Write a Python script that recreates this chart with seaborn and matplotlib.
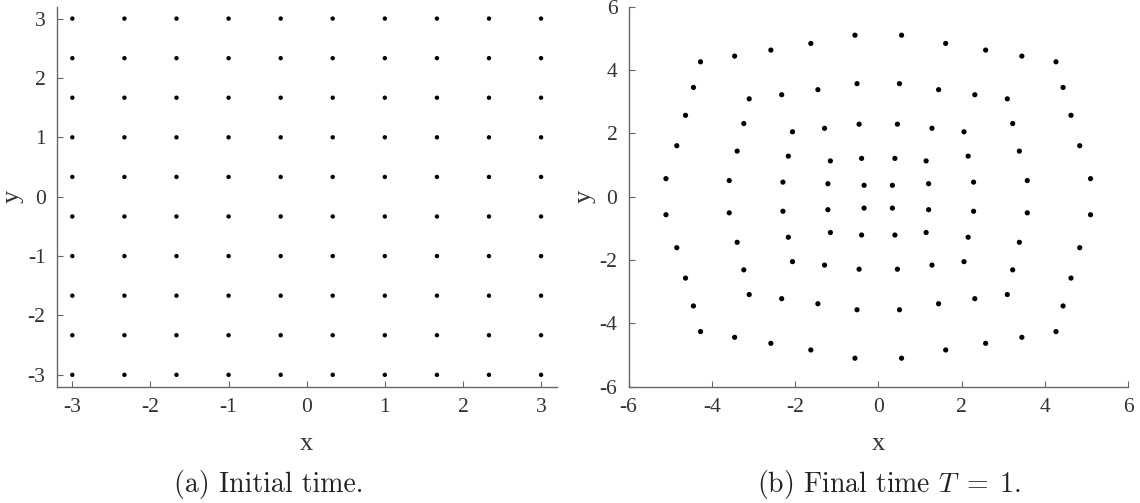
import itertools
import numpy as np
import pandas as pd
import seaborn as sns
import matplotlib.pyplot as plt

# initial grid (10 x 10)
grid_vals = [-3.0, -2.333, -1.667, -1.0, -0.333, 0.333, 1.0, 1.667, 2.333, 3.0]

# final positions at T = 1
final_x = [
    # outer ring
    -0.56, -1.62, -2.58, -3.45, -4.27, -4.44, -4.63, -4.84, -5.10,
    -5.10, -4.84, -4.63, -4.44, -4.27, -3.45, -2.58, -1.62, -0.56,
    0.56, 1.62, 2.58, 3.45, 4.27, 4.44, 4.63, 4.84, 5.10,
    5.10, 4.84, 4.63, 4.44, 4.27, 3.45, 2.58, 1.62, 0.56,
    # second ring
    -0.51, -1.45, -2.32, -3.10, -3.23, -3.39, -3.58,
    -3.58, -3.39, -3.23, -3.10, -2.32, -1.45, -0.51,
    0.51, 1.45, 2.32, 3.10, 3.23, 3.39, 3.58,
    3.58, 3.39, 3.23, 3.10, 2.32, 1.45, 0.51,
    # third ring
    -0.46, -1.29, -2.06, -2.16, -2.29,
    -2.29, -2.16, -2.06, -1.29, -0.46,
    0.46, 1.29, 2.06, 2.16, 2.29,
    2.29, 2.16, 2.06, 1.29, 0.46,
    # fourth ring
    -0.40, -1.15, -1.21,
    -1.21, -1.15, -0.40,
    0.40, 1.15, 1.21,
    1.21, 1.15, 0.40,
    # centre
    -0.34, -0.34, 0.34, 0.34,
]
final_y = [
    5.10, 4.84, 4.63, 4.44, 4.26, 3.45, 2.57, 1.61, 0.57,
    -0.57, -1.61, -2.57, -3.45, -4.26, -4.44, -4.63, -4.84, -5.10,
    -5.10, -4.84, -4.63, -4.44, -4.26, -3.45, -2.57, -1.61, -0.57,
    0.57, 1.61, 2.57, 3.45, 4.26, 4.44, 4.63, 4.84, 5.10,
    3.57, 3.38, 3.22, 3.09, 2.31, 1.44, 0.51,
    -0.51, -1.44, -2.31, -3.09, -3.22, -3.38, -3.57,
    -3.57, -3.38, -3.22, -3.09, -2.31, -1.44, -0.51,
    0.51, 1.44, 2.31, 3.09, 3.22, 3.38, 3.57,
    2.29, 2.16, 2.05, 1.28, 0.46,
    -0.46, -1.28, -2.05, -2.16, -2.29,
    -2.29, -2.16, -2.05, -1.28, -0.46,
    0.46, 1.28, 2.05, 2.16, 2.29,
    1.21, 1.13, 0.41,
    -0.41, -1.13, -1.21,
    -1.21, -1.13, -0.41,
    0.41, 1.13, 1.21,
    0.36, -0.36, -0.36, 0.36,
]

left_ticks = [-3, -2, -1, 0, 1, 2, 3]
right_ticks = [-6, -4, -2, 0, 2, 4, 6]

sns.set_style("ticks")
plt.rcParams['font.family'] = ['Liberation Serif', 'DejaVu Serif']
plt.rcParams['mathtext.fontset'] = 'cm'
plt.rcParams['axes.unicode_minus'] = False

initial = pd.DataFrame(list(itertools.product(grid_vals, grid_vals)), columns=["x", "y"])
final = pd.DataFrame({"x": final_x, "y": final_y})

W, H = 1140, 503
fig = plt.figure(figsize=(W / 100, H / 100), dpi=100)


def px_axes(left, right, top, bottom):
    return fig.add_axes([left / W, (H - bottom) / H, (right - left) / W, (bottom - top) / H])


ax1 = px_axes(56.7, 556.7, 6.7, 386.7)
ax2 = px_axes(628.5, 1128.0, 6.7, 386.7)

sns.scatterplot(data=initial, x="x", y="y", ax=ax1, color="black", s=10,
                edgecolor="none", linewidth=0)
sns.scatterplot(data=final, x="x", y="y", ax=ax2, color="black", s=14,
                edgecolor="none", linewidth=0)

ax1.set_xlim(-3.2, 3.2)
ax1.set_ylim(-3.2, 3.2)
ax1.set_xticks(left_ticks)
ax1.set_yticks(left_ticks)
ax2.set_xlim(-6, 6)
ax2.set_ylim(-6, 6)
ax2.set_xticks(right_ticks)
ax2.set_yticks(right_ticks)

for ax in (ax1, ax2):
    sns.despine(ax=ax)
    for side in ("left", "bottom"):
        ax.spines[side].set_color("#666666")
        ax.spines[side].set_linewidth(1.0)
    ax.tick_params(direction="in", length=4, width=0.8, color="#666666",
                   labelsize=15.5, labelcolor="#333333", pad=8)
    ax.set_xlabel("x", fontsize=19, color="#333333", labelpad=12)
    ax.set_ylabel("y", fontsize=19, color="#333333", labelpad=3)

fig.text(269 / W, 1 - 492 / H, "(a) Initial time.", ha="center", va="baseline",
         fontsize=20, family="cmr10", color="#222222")
fig.text(889 / W, 1 - 492 / H, r"(b) Final time $T\;=\;1$.", ha="center", va="baseline",
         fontsize=20, family="cmr10", color="#222222")

fig.savefig("out.png", dpi=100)
